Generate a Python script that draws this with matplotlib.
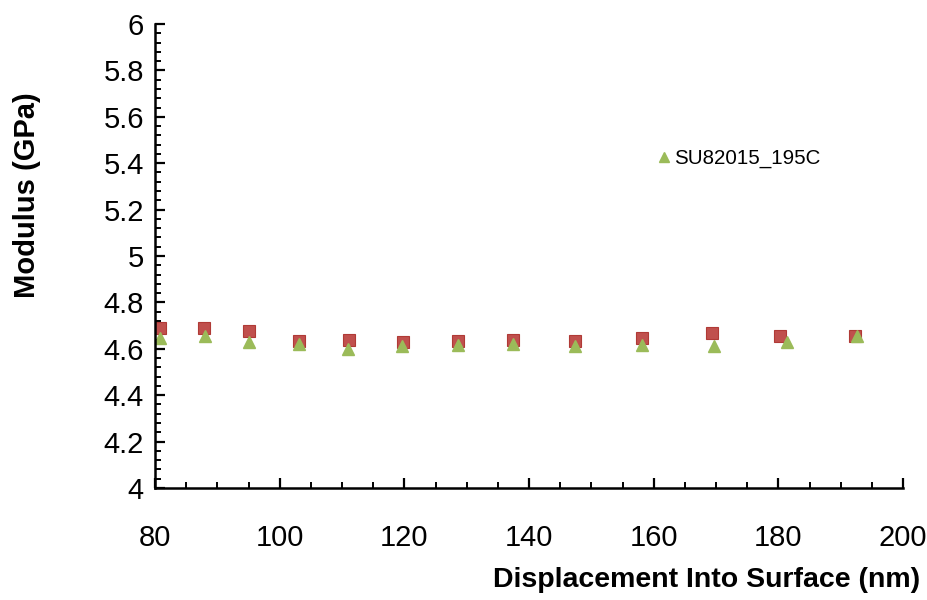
import matplotlib
matplotlib.use("Agg")
import matplotlib.pyplot as plt
from matplotlib.ticker import MultipleLocator

plt.rcParams['font.family'] = ['Liberation Sans', 'DejaVu Sans']

# Data
x_sq = [80.8, 87.9, 95.1, 103.1, 111.1, 119.8, 128.6, 137.4, 147.4, 158.1, 169.4, 180.3, 192.3]
y_sq = [4.688, 4.688, 4.675, 4.632, 4.640, 4.628, 4.632, 4.640, 4.632, 4.645, 4.670, 4.654, 4.654]
x_tri = [80.8, 88.0, 95.1, 103.1, 110.9, 119.6, 128.6, 137.4, 147.4, 158.2, 169.6, 181.4, 192.7]
y_tri = [4.645, 4.654, 4.628, 4.620, 4.600, 4.610, 4.615, 4.620, 4.610, 4.615, 4.610, 4.628, 4.654]
tri_label = "SU82015_195C"

x_ticks = [80, 100, 120, 140, 160, 180, 200]
y_ticks = [4, 4.2, 4.4, 4.6, 4.8, 5, 5.2, 5.4, 5.6, 5.8, 6]

fig = plt.figure(figsize=(9.27, 6.0), dpi=100)
ax = fig.add_axes([155/927, 112/600, 748/927, 464/600])

ax.plot(x_sq, y_sq, linestyle='none', marker='s', markersize=9,
        markerfacecolor='#C0504D', markeredgecolor='#B03A36', markeredgewidth=0.8)
ax.plot(x_tri, y_tri, linestyle='none', marker='^', markersize=9,
        markerfacecolor='#9BBB59', markeredgecolor='#9BBB59', label=tri_label)

ax.set_xlim(80, 200)
ax.set_ylim(4, 6)
ax.set_xticks(x_ticks)
ax.set_yticks(y_ticks)
ax.set_xticklabels([str(v) for v in x_ticks])
ax.set_yticklabels([('%g' % v) for v in y_ticks])
ax.xaxis.set_minor_locator(MultipleLocator(5))
ax.yaxis.set_minor_locator(MultipleLocator(0.04))

for s in ['top', 'right']:
    ax.spines[s].set_visible(False)
for s in ['left', 'bottom']:
    ax.spines[s].set_linewidth(1.8)
    ax.spines[s].set_color('black')

ax.tick_params(axis='both', which='major', direction='in', length=7, width=1.6,
               labelsize=21, colors='black')
ax.tick_params(axis='both', which='minor', direction='in', length=4.5, width=1.4)
ax.tick_params(axis='x', which='major', pad=26)
ax.tick_params(axis='y', which='major', pad=8)

ax.set_xlabel("Displacement Into Surface (nm)", fontsize=20.5, fontweight='bold')
ax.xaxis.set_label_coords(1.023, -0.198)
ax.xaxis.label.set_horizontalalignment('right')
ax.xaxis.label.set_verticalalignment('center')
ax.set_ylabel("Modulus (GPa)", fontsize=21, fontweight='bold')
ax.yaxis.set_label_coords(-0.152, 0.631)

leg = ax.legend(loc='center left', bbox_to_anchor=(0.647, 0.71), frameon=False,
                fontsize=14.8, handlelength=0.6, handletextpad=0.2, markerscale=0.85)

fig.savefig("out.png", dpi=100)
